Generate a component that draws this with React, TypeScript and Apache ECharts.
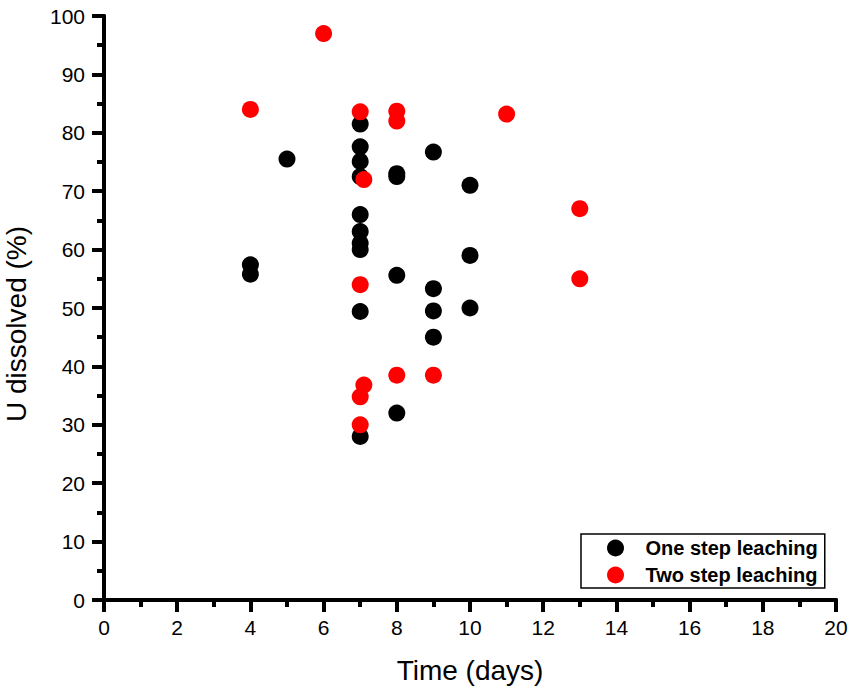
import React, { useEffect, useRef } from "react";
import * as echarts from "echarts";

const seriesNames = ["One step leaching", "Two step leaching"];

const oneStepTime = [4, 4, 5, 7, 7, 7, 7, 7, 7, 7, 7, 7, 7, 8, 8, 8, 8, 9, 9, 9, 9, 10, 10, 10];
const oneStepU = [57.4, 55.8, 75.5, 81.5, 77.6, 75.1, 72.5, 66, 63.1, 61.1, 60, 49.4, 28, 73, 72.5, 55.6, 32, 76.7, 53.3, 49.5, 45, 71, 59, 50];

const twoStepTime = [4, 6, 7, 7.1, 7, 7.1, 7, 7, 8, 8, 8, 9, 11, 13, 13];
const twoStepU = [84, 97, 83.6, 72, 54, 36.8, 34.8, 30, 83.7, 82, 38.5, 38.5, 83.2, 67, 55];

const xTicks = [0, 2, 4, 6, 8, 10, 12, 14, 16, 18, 20];
const yTicks = [0, 10, 20, 30, 40, 50, 60, 70, 80, 90, 100];

const FONT = "'Liberation Sans', Arial, sans-serif";

export default function App() {
  const ref = useRef<HTMLDivElement>(null);

  useEffect(() => {
    if (!ref.current) return;
    const chart = echarts.init(ref.current, undefined, { renderer: "svg" });

    const axisLine = { show: true, lineStyle: { color: "#000", width: 4 } };
    const majorStyle = { color: "#000", width: 4 };
    const xMin = xTicks[0];
    const xMax = xTicks[xTicks.length - 1];
    const xInt = xTicks[1] - xTicks[0];
    const yMin = yTicks[0];
    const yMax = yTicks[yTicks.length - 1];
    const yInt = yTicks[1] - yTicks[0];

    const baseX = {
      type: "value" as const,
      min: xMin,
      max: xMax,
      interval: xInt,
      splitLine: { show: false },
      axisLine,
    };
    const baseY = {
      type: "value" as const,
      min: yMin,
      max: yMax,
      interval: yInt,
      splitLine: { show: false },
      axisLine,
    };

    chart.setOption({
      animation: false,
      backgroundColor: "#fff",
      grid: { left: 104, right: 18, top: 16, bottom: 92, containLabel: false, outerBoundsMode: "none" },
      xAxis: [
        {
          ...baseX,
          position: "bottom",
          name: "Time (days)",
          nameLocation: "middle",
          nameGap: 56,
          nameTextStyle: { fontFamily: FONT, fontSize: 28, color: "#000" },
          axisTick: { show: true, inside: false, length: 12, lineStyle: majorStyle },
          minorTick: { show: true, splitNumber: 2, length: 7, lineStyle: majorStyle },
          axisLabel: { fontFamily: FONT, fontSize: 21, color: "#000", margin: 17 },
        },
        {
          ...baseX,
          position: "top",
          axisTick: { show: true, inside: true, length: 12, lineStyle: majorStyle },
          minorTick: { show: true, splitNumber: 2, length: 7, lineStyle: majorStyle },
          axisLabel: { show: false },
        },
      ],
      yAxis: [
        {
          ...baseY,
          position: "left",
          name: "U dissolved (%)",
          nameLocation: "middle",
          nameGap: 74,
          nameTextStyle: { fontFamily: FONT, fontSize: 28, color: "#000", padding: [0, 32, 0, 0] },
          axisTick: { show: true, inside: false, length: 12, lineStyle: majorStyle },
          minorTick: { show: true, splitNumber: 2, length: 7, lineStyle: majorStyle },
          axisLabel: { fontFamily: FONT, fontSize: 21, color: "#000", margin: 19 },
        },
        {
          ...baseY,
          position: "right",
          axisTick: { show: true, inside: true, length: 12, lineStyle: majorStyle },
          minorTick: { show: true, splitNumber: 2, length: 7, lineStyle: majorStyle },
          axisLabel: { show: false },
        },
      ],
      legend: {
        left: 581,
        top: 534,
        orient: "vertical",
        icon: "circle",
        itemWidth: 50,
        itemHeight: 17,
        itemGap: 7,
        padding: [4, 7, 3, 26],
        borderColor: "#000",
        borderWidth: 1.5,
        backgroundColor: "#fff",
        selectedMode: false,
        textStyle: { fontFamily: FONT, fontSize: 20, fontWeight: "bold", color: "#000", lineHeight: 20 },
        data: seriesNames,
      },
      series: [
        {
          name: seriesNames[0],
          type: "scatter",
          xAxisIndex: 0,
          yAxisIndex: 0,
          symbol: "circle",
          symbolSize: 17,
          itemStyle: { color: "#000", opacity: 1 },
          data: oneStepTime.map((t, i) => [t, oneStepU[i]]),
        },
        {
          name: seriesNames[1],
          type: "scatter",
          xAxisIndex: 0,
          yAxisIndex: 0,
          symbol: "circle",
          symbolSize: 17,
          itemStyle: { color: "#ff0000", opacity: 1 },
          data: twoStepTime.map((t, i) => [t, twoStepU[i]]),
        },
      ],
    });

    return () => chart.dispose();
  }, []);

  return (
    <div
      ref={ref}
      style={{ position: "fixed", left: 0, top: 0, width: 854, height: 692, background: "#fff" }}
    />
  );
}
